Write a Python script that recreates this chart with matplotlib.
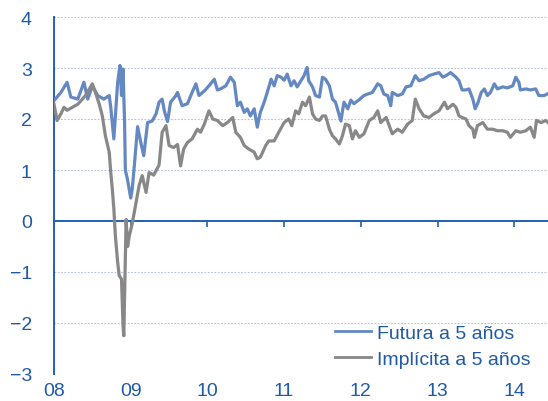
import numpy as np
import matplotlib.pyplot as plt

# --- data (decimal years, %) ---
fut_x = [8.00, 8.09, 8.17, 8.22, 8.31, 8.39, 8.44, 8.50, 8.57, 8.65, 8.72, 8.74, 8.78, 8.83, 8.86,
         8.88, 8.90, 8.92, 8.93, 8.96, 9.00, 9.02, 9.04, 9.09, 9.13, 9.17, 9.22, 9.28, 9.33, 9.37,
         9.41, 9.44, 9.48, 9.52, 9.59, 9.61, 9.67, 9.74, 9.80, 9.85, 9.89, 9.96, 10.02, 10.09, 10.13,
         10.17, 10.24, 10.30, 10.35, 10.39, 10.43, 10.48, 10.52, 10.56, 10.61, 10.65, 10.69, 10.74,
         10.78, 10.83, 10.87, 10.91, 10.96, 11.00, 11.04, 11.09, 11.13, 11.17, 11.22, 11.26, 11.30,
         11.32, 11.37, 11.41, 11.46, 11.50, 11.54, 11.59, 11.63, 11.67, 11.72, 11.74, 11.78, 11.83,
         11.87, 11.91, 11.98, 12.04, 12.09, 12.15, 12.22, 12.26, 12.30, 12.35, 12.39, 12.41, 12.48,
         12.54, 12.59, 12.65, 12.71, 12.76, 12.82, 12.89, 12.95, 13.02, 13.07, 13.11, 13.17, 13.24,
         13.28, 13.32, 13.37, 13.41, 13.46, 13.49, 13.52, 13.57, 13.61, 13.65, 13.69, 13.74, 13.78,
         13.85, 13.91, 13.98, 14.02, 14.06, 14.08, 14.15, 14.21, 14.28, 14.32, 14.39, 14.43]
futura = [2.36, 2.52, 2.72, 2.43, 2.39, 2.72, 2.39, 2.65, 2.46, 2.39, 2.46, 2.23, 1.61, 2.72, 3.05,
          2.46, 2.98, 1.94, 1.00, 0.80, 0.45, 0.63, 0.96, 1.85, 1.55, 1.28, 1.93, 1.96, 2.10, 2.33,
          2.39, 2.15, 1.95, 2.33, 2.46, 2.52, 2.26, 2.30, 2.52, 2.69, 2.46, 2.55, 2.65, 2.78, 2.57,
          2.59, 2.65, 2.82, 2.72, 2.26, 2.33, 2.13, 2.20, 2.06, 2.20, 1.84, 2.13, 2.33,
          2.52, 2.78, 2.65, 2.85, 2.82, 2.76, 2.88, 2.65, 2.75, 2.63, 2.75, 2.85, 3.01,
          2.75, 2.63, 2.46, 2.43, 2.82, 2.78, 2.65, 2.39, 2.33, 2.06, 1.96, 2.33, 2.20,
          2.37, 2.30, 2.38, 2.46, 2.49, 2.52, 2.69, 2.65, 2.49, 2.46, 2.26, 2.52, 2.46,
          2.49, 2.63, 2.65, 2.85, 2.75, 2.78, 2.85, 2.88, 2.91, 2.82, 2.85, 2.91, 2.82,
          2.75, 2.57, 2.57, 2.59, 2.39, 2.20, 2.29, 2.52, 2.59, 2.46, 2.52, 2.69, 2.59,
          2.63, 2.61, 2.65, 2.82, 2.72, 2.57, 2.59, 2.57, 2.59, 2.46, 2.46, 2.49]

imp_x = [8.00, 8.04, 8.09, 8.13, 8.17, 8.24, 8.31, 8.37, 8.41, 8.46, 8.50, 8.54, 8.59, 8.63, 8.67,
         8.72, 8.74, 8.76, 8.78, 8.80, 8.83, 8.85, 8.88, 8.90, 8.91, 8.93, 8.94, 8.96, 8.98, 9.02,
         9.07, 9.11, 9.15, 9.20, 9.24, 9.30, 9.37, 9.41, 9.46, 9.50, 9.56, 9.61, 9.65, 9.69, 9.74,
         9.80, 9.87, 9.91, 9.96, 10.02, 10.07, 10.13, 10.20, 10.26, 10.33, 10.37, 10.43, 10.48,
         10.54, 10.61, 10.65, 10.69, 10.76, 10.80, 10.87, 10.93, 11.00, 11.06, 11.10, 11.15, 11.19,
         11.24, 11.28, 11.33, 11.37, 11.41, 11.46, 11.50, 11.54, 11.59, 11.63, 11.67, 11.72, 11.76,
         11.80, 11.85, 11.89, 11.93, 11.98, 12.04, 12.11, 12.17, 12.22, 12.26, 12.33, 12.37, 12.41,
         12.48, 12.54, 12.61, 12.67, 12.71, 12.76, 12.82, 12.89, 12.95, 13.02, 13.09, 13.13, 13.20,
         13.24, 13.28, 13.32, 13.37, 13.41, 13.46, 13.48, 13.52, 13.59, 13.65, 13.72, 13.78, 13.85,
         13.91, 13.95, 14.02, 14.08, 14.15, 14.21, 14.26, 14.29, 14.35, 14.41, 14.44]
implicita = [2.29, 1.97, 2.10, 2.23, 2.17, 2.23, 2.29, 2.39, 2.46, 2.59, 2.69, 2.52, 2.29, 2.06, 1.67,
             1.35, 0.95, 0.63, 0.24, -0.29, -0.81, -1.07, -1.14, -2.05, -2.25, -0.68, 0.03, -0.50, -0.30, -0.05,
             0.37, 0.70, 0.89, 0.56, 0.95, 0.90, 1.10, 1.74, 1.87, 1.48, 1.44, 1.50, 1.08, 1.41, 1.54,
             1.61, 1.80, 1.74, 1.90, 2.16, 2.00, 1.97, 1.87, 1.93, 2.03, 1.74, 1.64, 1.48,
             1.41, 1.35, 1.22, 1.25, 1.48, 1.57, 1.57, 1.74, 1.93, 2.00, 1.87, 2.16, 2.10,
             2.33, 2.26, 2.43, 2.10, 2.00, 1.97, 2.06, 2.06, 1.80, 1.67, 1.61, 1.51, 1.67,
             1.90, 1.87, 1.61, 1.77, 1.64, 1.71, 1.97, 2.03, 2.16, 1.93, 2.03, 1.87, 1.71,
             1.80, 1.74, 1.90, 1.97, 2.39, 2.20, 2.06, 2.03, 2.10, 2.16, 2.33, 2.20, 2.29,
             2.23, 2.06, 2.03, 2.00, 1.87, 1.80, 1.64, 1.87, 1.93, 1.80, 1.80, 1.77, 1.77,
             1.74, 1.64, 1.77, 1.74, 1.77, 1.84, 1.64, 1.97, 1.93, 1.97, 1.93]

years = [8, 9, 10, 11, 12, 13, 14]
year_labels = ['08', '09', '10', '11', '12', '13', '14']
y_ticks = [-3, -2, -1, 0, 1, 2, 3, 4]

BLUE_TXT = '#1F5AA8'
AXIS_BLUE = '#2160B0'
LINE_BLUE = '#6489C2'
LINE_GRAY = '#888888'

plt.rcParams['font.family'] = ['Liberation Sans', 'DejaVu Sans']

fig = plt.figure(figsize=(5.48, 4.02), dpi=100)
ax = fig.add_axes([54 / 548, 27 / 402, 494 / 548, 357 / 402])

ax.plot(fut_x, futura, color=LINE_BLUE, lw=2.3, label='Futura a 5 años', zorder=3)
ax.plot(imp_x, implicita, color=LINE_GRAY, lw=2.3, label='Implícita a 5 años', zorder=3)

ax.set_xlim(8.0, 14.44)
ax.set_ylim(-3, 4)
ax.set_yticks(y_ticks)
ax.set_xticks(years)
ax.set_xticklabels(year_labels)

# dotted grid
for y in y_ticks:
    if y != 0:
        ax.axhline(y, color='#B4BEDC', lw=0.8, ls=(0, (1.5, 1.5)), zorder=1)

for s in ['top', 'right', 'bottom']:
    ax.spines[s].set_visible(False)
ax.spines['left'].set_color(AXIS_BLUE)
ax.spines['left'].set_linewidth(1.4)

ax.tick_params(axis='y', length=0, pad=16, labelsize=14, labelcolor=BLUE_TXT)
ax.tick_params(axis='x', length=0, pad=6, labelsize=14, labelcolor=BLUE_TXT)

# zero line with tick marks
sec = ax.secondary_xaxis(3 / 7)
sec.set_xticks(years)
sec.set_xticklabels([])
sec.spines['bottom'].set_color(AXIS_BLUE)
sec.spines['bottom'].set_linewidth(1.4)
sec.tick_params(axis='x', direction='out', length=4, width=1.2, color=AXIS_BLUE)

leg = ax.legend(loc='center left', bbox_to_anchor=(325 / 548, (402 - 347) / 402),
                bbox_transform=fig.transFigure, frameon=False, fontsize=14,
                handlelength=1.85, handletextpad=0.3, labelspacing=0.45, borderpad=0)
for t in leg.get_texts():
    t.set_color(BLUE_TXT)
for h in leg.get_lines():
    h.set_linewidth(2.0)

fig.savefig('out.png', dpi=100)
